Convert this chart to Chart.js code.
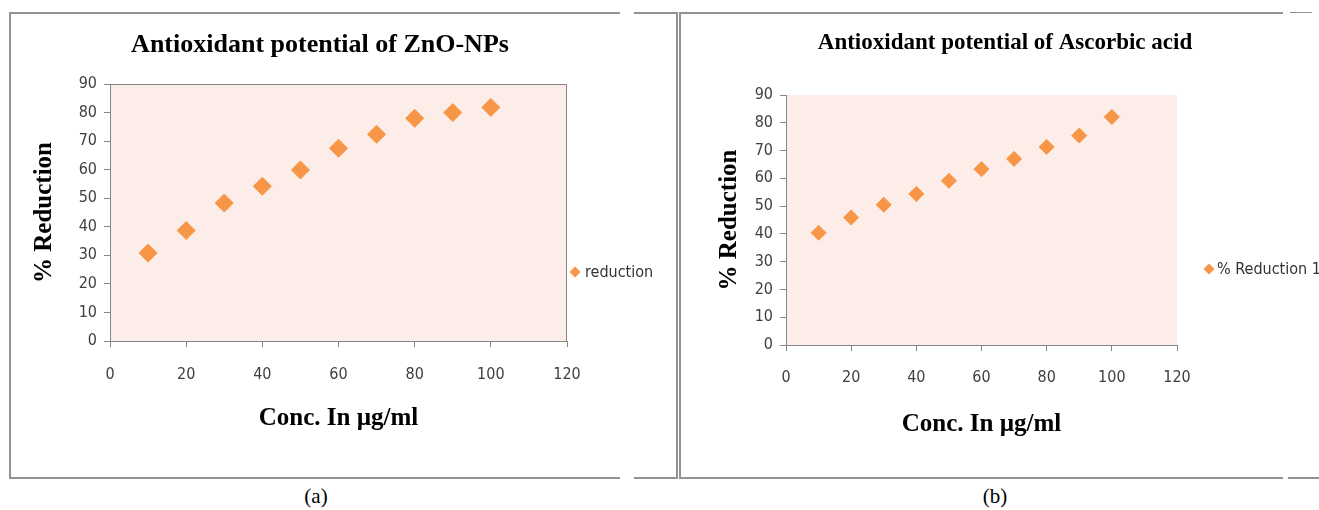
<!DOCTYPE html>
<html>
<head>
<meta charset="utf-8">
<script src="https://cdn.jsdelivr.net/npm/chart.js@4.4.1/dist/chart.umd.min.js"></script>
<style>
  body { margin: 0; background: #fff; width: 1319px; height: 510px; position: relative; overflow: hidden; }
  .ln { position: absolute; background: #929292; }
  canvas { position: absolute; }
  .cap { position: absolute; font-family: "Liberation Serif", serif; font-size: 21px; color: #000; transform: translateX(-50%); }
</style>
</head>
<body>
<!-- ramki paneli -->
<div class="ln" style="left:9px;top:12px;width:611px;height:2px"></div>
<div class="ln" style="left:9px;top:477px;width:611px;height:2px"></div>
<div class="ln" style="left:9px;top:12px;width:2px;height:467px"></div>
<div class="ln" style="left:634px;top:12px;width:44px;height:2px"></div>
<div class="ln" style="left:634px;top:477px;width:44px;height:2px"></div>
<div class="ln" style="left:676px;top:12px;width:2px;height:467px"></div>

<div class="ln" style="left:679px;top:12px;width:2px;height:467px"></div>
<div class="ln" style="left:679px;top:12px;width:604px;height:2px"></div>
<div class="ln" style="left:679px;top:477px;width:604px;height:2px"></div>
<div class="ln" style="left:1290px;top:12px;width:22px;height:1px"></div>
<div class="ln" style="left:1288px;top:477px;width:31px;height:2px"></div>

<canvas id="chartA" width="666" height="466" style="left:10px;top:12px"></canvas>
<canvas id="chartB" width="640" height="466" style="left:679px;top:12px"></canvas>

<div class="cap" style="left:316px;top:484px">(a)</div>
<div class="cap" style="left:995px;top:484px">(b)</div>

<script>
// Dane
const concentrations = [10, 20, 30, 40, 50, 60, 70, 80, 90, 100];
const znoReduction = [30.8, 38.7, 48.3, 54.2, 59.9, 67.5, 72.4, 78.0, 80.0, 81.8];
const ascorbicReduction = [40.4, 45.9, 50.5, 54.4, 59.1, 63.3, 67.0, 71.3, 75.4, 82.1];
const xTicks = [0, 20, 40, 60, 80, 100, 120];
const yTicks = [0, 10, 20, 30, 40, 50, 60, 70, 80, 90];

const serif = '"Liberation Serif", "Times New Roman", serif';
const narrow = '"Liberation Sans Narrow", "DejaVu Sans Condensed", "Liberation Sans", sans-serif';
const orange = '#f79646';
const axisGrey = '#868686';

// Tło obszaru wykresu, ramka i legenda
const plotDecor = {
    id: 'plotDecor',
    beforeDraw(chart, args, opts) {
        const { ctx, chartArea: a } = chart;
        ctx.save();
        ctx.fillStyle = opts.fill;
        ctx.fillRect(a.left, a.top, a.right - a.left, a.bottom - a.top);
        if (opts.frame) {
            ctx.strokeStyle = axisGrey;
            ctx.lineWidth = 1;
            ctx.beginPath();
            ctx.moveTo(a.left, a.top + 0.5);
            ctx.lineTo(a.right - 0.5, a.top + 0.5);
            ctx.lineTo(a.right - 0.5, a.bottom);
            ctx.stroke();
        }
        ctx.restore();
    },
    afterDraw(chart, args, opts) {
        const { ctx } = chart;
        const ds = chart.data.datasets[0];
        const r = 5.5;
        ctx.save();
        ctx.fillStyle = ds.backgroundColor;
        ctx.beginPath();
        ctx.moveTo(opts.legendX, opts.legendY - r);
        ctx.lineTo(opts.legendX + r, opts.legendY);
        ctx.lineTo(opts.legendX, opts.legendY + r);
        ctx.lineTo(opts.legendX - r, opts.legendY);
        ctx.closePath();
        ctx.fill();
        ctx.fillStyle = '#333';
        ctx.font = '16px ' + narrow;
        ctx.textBaseline = 'middle';
        ctx.fillText(ds.label, opts.textX, opts.legendY + 1);
        ctx.restore();
    }
};

function buildChart(canvasId, p) {
    const ctx = document.getElementById(canvasId);
    return new Chart(ctx, {
        type: 'scatter',
        data: {
            datasets: [{
                label: p.label,
                data: concentrations.map((x, i) => ({ x: x, y: p.values[i] })),
                pointStyle: 'rectRot',
                pointRadius: p.radius,
                backgroundColor: orange,
                borderColor: orange,
                borderWidth: 1
            }]
        },
        options: {
            responsive: false,
            animation: false,
            events: [],
            layout: { padding: { left: p.padLeft, right: p.padRight, top: 0, bottom: 0 } },
            plugins: {
                legend: { display: false },
                tooltip: { enabled: false },
                title: {
                    display: true,
                    text: p.title,
                    color: '#000',
                    font: { family: serif, size: p.titleSize, weight: 'bold' },
                    padding: { top: p.titleTop, bottom: p.titleBottom }
                },
                plotDecor: { fill: '#fcede8', frame: p.frame, legendX: p.legendX, legendY: p.legendY, textX: p.textX }
            },
            scales: {
                x: {
                    type: 'linear',
                    min: 0,
                    max: 120,
                    afterBuildTicks: s => { s.ticks = xTicks.map(v => ({ value: v })); },
                    afterFit: s => { s.height = p.xHeight; },
                    grid: { drawOnChartArea: false, tickLength: 6, color: axisGrey },
                    border: { color: axisGrey },
                    ticks: { padding: p.xTickPad, color: '#404040', font: { family: narrow, size: 16 } },
                    title: {
                        display: true,
                        text: 'Conc. In µg/ml',
                        color: '#000',
                        font: { family: serif, size: 25, weight: 'bold' },
                        padding: { top: 0, bottom: p.xTitlePad }
                    }
                },
                y: {
                    type: 'linear',
                    min: 0,
                    max: 90,
                    afterBuildTicks: s => { s.ticks = yTicks.map(v => ({ value: v })); },
                    afterFit: s => { s.width = p.yWidth; },
                    grid: { drawOnChartArea: false, tickLength: 6, color: axisGrey },
                    border: { color: axisGrey },
                    ticks: { padding: 7, color: '#404040', font: { family: narrow, size: 16 } },
                    title: {
                        display: true,
                        text: '% Reduction',
                        color: '#000',
                        font: { family: serif, size: 25, weight: 'bold' },
                        padding: { top: p.yTitlePad, bottom: 0 }
                    }
                },
                // miejsce na legendę po prawej
                pad: {
                    type: 'linear',
                    position: 'right',
                    grid: { display: false },
                    ticks: { display: false },
                    border: { display: false },
                    afterFit: s => { s.width = p.rightSpace; }
                }
            }
        },
        plugins: [plotDecor]
    });
}

buildChart('chartA', {
    label: 'reduction', values: znoReduction, title: 'Antioxidant potential of ZnO-NPs',
    padLeft: 0, padRight: 46, rightSpace: 63, yWidth: 100, xHeight: 137,
    titleSize: 26, titleTop: 17.4, titleBottom: 23.4, yTitlePad: 20, xTitlePad: 44, xTickPad: 18.4,
    radius: 9, frame: true, legendX: 565, legendY: 260, textX: 575
});

buildChart('chartB', {
    label: '% Reduction 1', values: ascorbicReduction, title: 'Antioxidant potential of Ascorbic acid',
    padLeft: 12, padRight: 0, rightSpace: 142, yWidth: 95, xHeight: 133,
    titleSize: 23, titleTop: 17.2, titleBottom: 38.2, yTitlePad: 24, xTitlePad: 38, xTickPad: 17.4,
    radius: 7.5, frame: false, legendX: 530, legendY: 257, textX: 538
});
</script>
</body>
</html>
